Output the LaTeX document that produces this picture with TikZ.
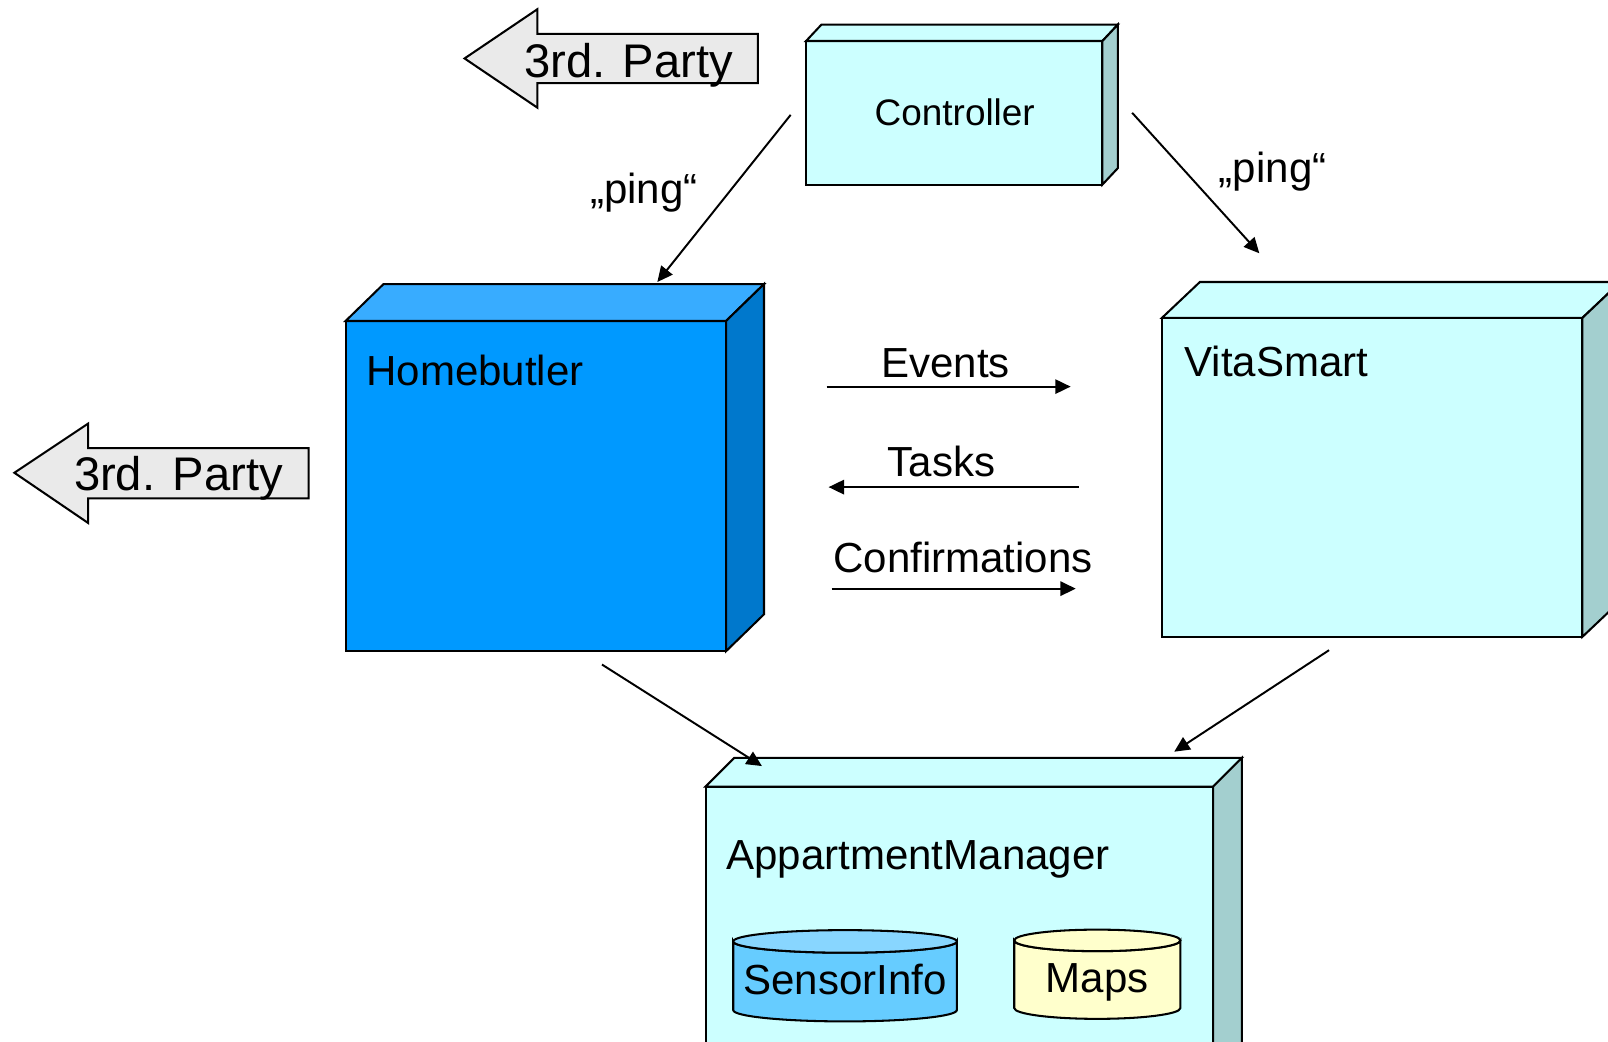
\documentclass[tikz,border=0pt]{standalone}
\usepackage{fontspec}
\setmainfont{Liberation Sans}
\usetikzlibrary{arrows.meta}
\definecolor{cyanF}{HTML}{CCFFFF}
\definecolor{cyanS}{HTML}{A3CFCF}
\definecolor{hbF}{HTML}{0099FF}
\definecolor{hbT}{HTML}{38ACFF}
\definecolor{hbS}{HTML}{0078CC}
\definecolor{partyF}{HTML}{EAEAEA}
\definecolor{sensB}{HTML}{66CCFF}
\definecolor{sensT}{HTML}{88D6FF}
\definecolor{mapsF}{HTML}{FFFFCC}
\begin{document}
\begin{tikzpicture}[x=1pt,y=-1pt,
  face/.style={draw=black, line width=2pt, line join=miter, inner sep=0pt, outer sep=0pt},
  edge3d/.style={draw=black, line width=2pt, line join=miter},
  conn/.style={line width=1.9pt, -{Triangle[length=15pt,width=14pt]}},
  lbl/.style={font=\fontsize{41}{49}\selectfont, inner sep=0pt, anchor=base},
  ctl/.style={font=\fontsize{36}{43}\selectfont, inner sep=0pt, anchor=base},
  pty/.style={font=\fontsize{46}{55}\selectfont, inner sep=0pt, anchor=base west},
  partyarrow/.style={draw=black, line width=2pt, fill=partyF, line join=miter},
  cyl/.style={draw=black, line width=2pt}
]
\clip (0,0) rectangle (1568,1016);
\fill[white] (0,0) rectangle (1568,1016);

% 3rd party arrows
\draw[partyarrow] (453,57) -- (524,9) -- (524,33) -- (739,33) -- (739,81) -- (524,81) -- (524,105) -- cycle;
\node[pty] (party1) at (511,76) {3rd. Party};
\draw[partyarrow] (14,461) -- (86,413) -- (86,437) -- (301,437) -- (301,486) -- (86,486) -- (86,510) -- cycle;
\node[pty] (party2) at (72,478) {3rd. Party};

% Controller
\node[face, fill=cyanF, minimum width=289pt, minimum height=140pt, anchor=north west] (ctrl) at (786,40) {};
\draw[edge3d, fill=cyanF] (ctrl.north west) -- ++(15,-16) -- ++(289,0) -- (ctrl.north east) -- cycle;
\draw[edge3d, fill=cyanS] (ctrl.north east) -- ++(15,-16) -- ++(0,140) -- (ctrl.south east) -- cycle;
\node[ctl] (ctrlT) at (931,122) {Controller};

% Homebutler
\node[face, fill=hbF, minimum width=371pt, minimum height=322pt, anchor=north west] (hb) at (337,313) {};
\draw[edge3d, fill=hbT] (hb.north west) -- ++(37,-36) -- ++(371,0) -- (hb.north east) -- cycle;
\draw[edge3d, fill=hbS] (hb.north east) -- ++(37,-36) -- ++(0,322) -- (hb.south east) -- cycle;
\node[lbl, anchor=base west] (hbT) at (357,376) {Homebutler};

% VitaSmart
\node[face, fill=cyanF, minimum width=410pt, minimum height=311pt, anchor=north west] (vs) at (1133,310) {};
\draw[edge3d, fill=cyanF] (vs.north west) -- ++(37,-35) -- ++(410,0) -- (vs.north east) -- cycle;
\draw[edge3d, fill=cyanS] (vs.north east) -- ++(37,-35) -- ++(0,311) -- (vs.south east) -- cycle;
\node[lbl, anchor=base west] (vsT) at (1155,367) {VitaSmart};

% AppartmentManager
\node[face, fill=cyanF, minimum width=495pt, minimum height=290pt, anchor=north west] (am) at (688,767) {};
\draw[edge3d, fill=cyanF] (am.north west) -- ++(28,-28) -- ++(495,0) -- (am.north east) -- cycle;
\draw[edge3d, fill=cyanS] (am.north east) -- ++(28,-28) -- ++(0,290) -- (am.south east) -- cycle;
\node[lbl, anchor=base west] (amT) at (708,848) {AppartmentManager};

% SensorInfo cylinder
\draw[cyl, fill=sensB] (715,918) -- (715,985) arc[start angle=180, end angle=0, x radius=109, y radius=11]
  -- (933,918) arc[start angle=0, end angle=180, x radius=109, y radius=11] -- cycle;
\draw[cyl, fill=sensT] (824,918) ellipse[x radius=109, y radius=11];
\node[lbl] (siT) at (824,970) {SensorInfo};

% Maps cylinder
\draw[cyl, fill=mapsF] (989,917) -- (989,983) arc[start angle=180, end angle=0, x radius=81, y radius=10.5]
  -- (1151,917) arc[start angle=0, end angle=180, x radius=81, y radius=10.5] -- cycle;
\draw[cyl, fill=mapsF] (1070,917) ellipse[x radius=81, y radius=10.5];
\node[lbl] (mpT) at (1070,968) {Maps};

% connectors
\coordinate (pingLs) at (771,112);
\coordinate (pingLe) at (641,275);
\coordinate (pingRs) at (1104,110);
\coordinate (pingRe) at (1228,247);
\coordinate (hbAMs) at (587,648);
\coordinate (hbAMe) at (743,747);
\coordinate (vsAMs) at (1296,634);
\coordinate (vsAMe) at (1145,733);
\coordinate (evS) at (806,377);
\coordinate (evE) at (1044,377);
\coordinate (taS) at (1052,475);
\coordinate (taE) at (808,475);
\coordinate (coS) at (811,574);
\coordinate (coE) at (1049,574);

\draw[conn] (pingLs) -- (pingLe);
\draw[conn] (pingRs) -- (pingRe);
\draw[conn] (hbAMs) -- (hbAMe);
\draw[conn] (vsAMs) -- (vsAMe);
\draw[conn] (evS) -- (evE);
\draw[conn] (taS) -- (taE);
\draw[conn] (coS) -- (coE);

\node[lbl] (pingL) at (628,198) {„ping“};
\node[lbl] (pingR) at (1241,178) {„ping“};
\node[lbl] (evT) at (922,368) {Events};
\node[lbl] (taT) at (918,465) {Tasks};
\node[lbl] (coT) at (939,558) {Confirmations};
\end{tikzpicture}
\end{document}
